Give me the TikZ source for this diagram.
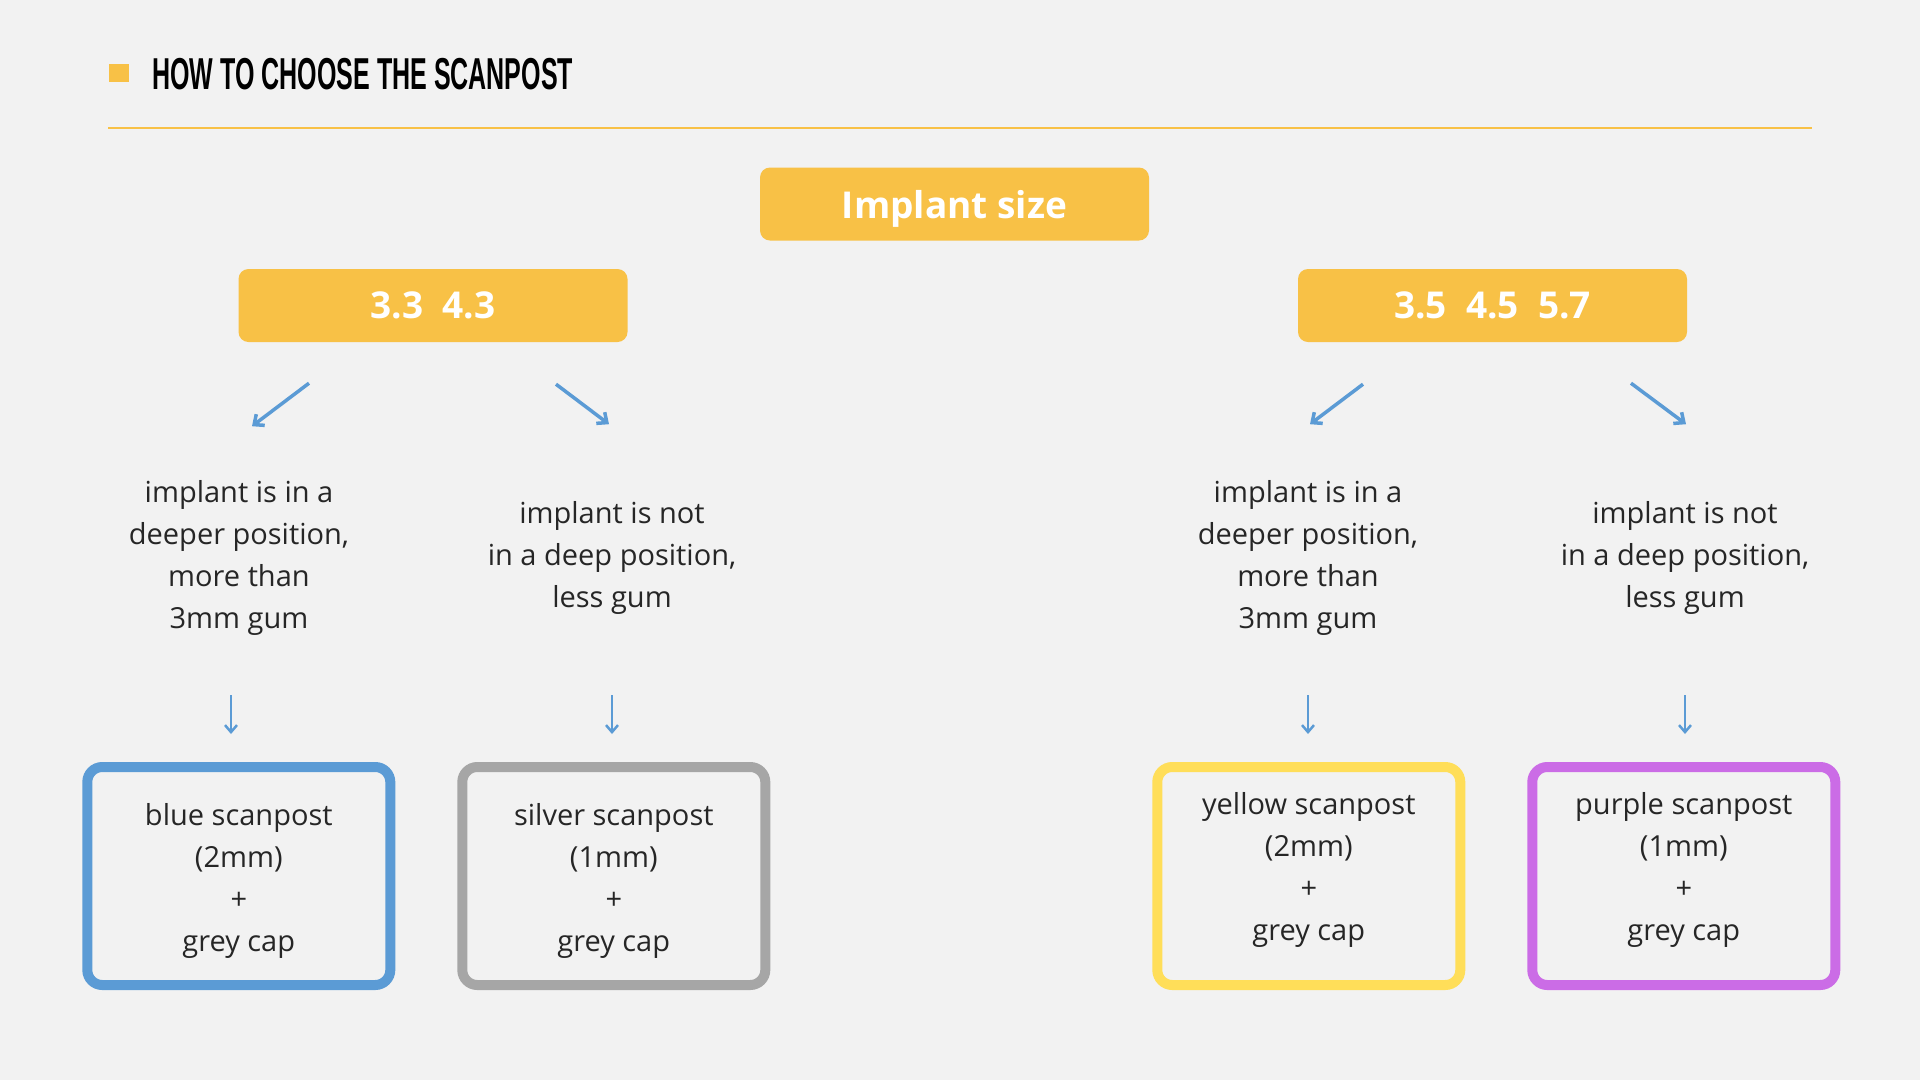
\documentclass[tikz,border=0pt]{standalone}
\usepackage{fontspec}
\setmainfont{Open Sans}
\newfontfamily\titlefont[FakeStretch=0.56]{Liberation Sans}
\usetikzlibrary{arrows.meta,calc,positioning}
\definecolor{bgc}{HTML}{F2F2F2}
\definecolor{gold}{HTML}{F8C146}
\definecolor{ink}{HTML}{262626}
\definecolor{arrowblue}{HTML}{5B9BD5}
\definecolor{postblue}{HTML}{5B9BD5}
\definecolor{postgrey}{HTML}{A6A6A6}
\definecolor{postyellow}{HTML}{FFDE59}
\definecolor{postpurple}{HTML}{CB6CE6}

\begin{document}
\begin{tikzpicture}[x=1pt,y=-1pt,
    every node/.style={inner sep=0pt,text=ink},
    sizebox/.style={fill=gold,rounded corners=10pt,minimum width=389pt,minimum height=73pt,
      text=white,text depth=0pt,font=\fontsize{37}{40}\selectfont\bfseries},
    cond/.style={align=center,anchor=base,font=\fontsize{29}{42}\selectfont},
    post/.style={draw=#1,line width=10pt,rounded corners=15pt,minimum width=303pt,
      minimum height=218pt,align=center,text depth=8pt,font=\fontsize{29}{42}\selectfont},
    arr/.style={draw=arrowblue,line width=3.5pt,-{Straight Barb[length=8pt,width=14pt]}},
    darr/.style={draw=arrowblue,line width=2.5pt,-{Straight Barb[length=7pt,width=12pt]}}]
    \fill[bgc] (0,0) rectangle (1920,1080);

    % title
    \fill[gold] (109,64) rectangle (129,82);
    \node[anchor=base west,text=black,font=\titlefont\fontsize{44.7}{48}\selectfont\bfseries]
      (title) at (152,89) {HOW TO CHOOSE THE SCANPOST};
    \draw[gold,line width=2pt] (108,128) -- (1812,128);

    % sizes
    \node[sizebox] (size) at (954.5,204) {Implant size};
    \node[sizebox] (thin) at (433,305.5) {3.3\ \ 4.3};
    \node[sizebox] (wide) at (1492.5,305.5) {3.5\ \ 4.5\ \ 5.7};

    \draw[arr] ($(thin.south)+(-124,41)$) -- ($(thin.south)+(-181,84)$);
    \draw[arr] ($(thin.south)+(123,42)$) -- ($(thin.south)+(176,82)$);
    \draw[arr] ($(wide.south)+(-129.5,42)$) -- ($(wide.south)+(-182.5,82)$);
    \draw[arr] ($(wide.south)+(138.5,41)$) -- ($(wide.south)+(193.5,82)$);

    % conditions (anchored at the last line)
    \node[cond] (deep1) at (239,628) {implant is in a\\deeper position,\\more than\\3mm gum};
    \node[cond] (flat1) at (612,607) {implant is not\\in a deep position,\\less gum};
    \node[cond] (deep2) at (1308,628) {implant is in a\\deeper position,\\more than\\3mm gum};
    \node[cond] (flat2) at (1685,607) {implant is not\\in a deep position,\\less gum};

    % scanposts
    \node[post=postblue,text height=158pt] (blue) at (238.8,876) {blue scanpost\\(2mm)\\+\\grey cap};
    \node[post=postgrey,text height=158pt] (silver) at (613.8,876) {silver scanpost\\(1mm)\\+\\grey cap};
    \node[post=postyellow,text height=136pt] (yellow) at (1308.8,876) {yellow scanpost\\(2mm)\\+\\grey cap};
    \node[post=postpurple,text height=136pt] (purple) at (1683.8,876) {purple scanpost\\(1mm)\\+\\grey cap};

    \foreach \b/\dx in {blue/-7.8,silver/-1.8,yellow/-0.8,purple/1.2}
      \draw[darr] ($(\b.north)+(\dx,-67)$) -- ($(\b.north)+(\dx,-28)$);
\end{tikzpicture}
\end{document}
